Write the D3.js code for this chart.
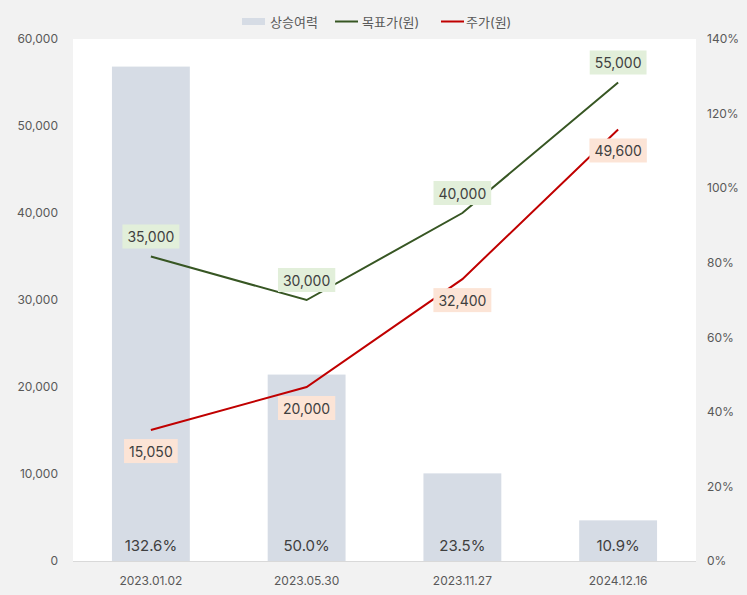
<!DOCTYPE html>
<html><head><meta charset="utf-8">
<script src="https://cdn.jsdelivr.net/npm/d3@7"></script>
<style>
body{margin:0;background:#f2f2f2;}
svg{display:block;font-family:Inter,"Noto Sans CJK KR",sans-serif;}
</style></head><body>
<svg id="c" width="747" height="595"></svg>
<script>
const categories = ["2023.01.02","2023.05.30","2023.11.27","2024.12.16"];
const upside = [132.6, 50.0, 23.5, 10.9];
const target = [35000, 30000, 40000, 55000];
const price = [15050, 20000, 32400, 49600];
const leftTicks = [0,10000,20000,30000,40000,50000,60000];
const rightTicks = [0,20,40,60,80,100,120,140];

const svg = d3.select("#c");
const m = {l:73, r:51, t:39, b:34};
const W = 747, H = 595;
svg.append("rect").attr("width",W).attr("height",H).attr("fill","#f2f2f2");
svg.append("rect").attr("x",m.l).attr("y",m.t).attr("width",W-m.l-m.r).attr("height",H-m.t-m.b).attr("fill","#ffffff");

const x = d3.scaleBand().domain(categories).range([m.l, W-m.r]).paddingInner(0).paddingOuter(0);
const yL = d3.scaleLinear().domain([0,60000]).range([H-m.b, m.t]);
const yR = d3.scaleLinear().domain([0,140]).range([H-m.b, m.t]);
const cx = d => x(d) + x.bandwidth()/2;

// bars
const bw = x.bandwidth()*0.5;
svg.selectAll(".bar").data(categories).join("rect")
  .attr("x", d=>cx(d)-bw/2).attr("width", bw)
  .attr("y", (d,i)=>yR(upside[i])).attr("height",(d,i)=>yR(0)-yR(upside[i]))
  .attr("fill","#d6dce5");
svg.selectAll(".barlab").data(categories).join("text")
  .attr("x", d=>cx(d)).attr("y", H-m.b-10).attr("text-anchor","middle")
  .attr("font-size",15).attr("fill","#404040")
  .text((d,i)=>upside[i].toFixed(1)+"%");

// axis baseline
svg.append("line").attr("x1",m.l).attr("x2",W-m.r).attr("y1",yL(0)+0.5).attr("y2",yL(0)+0.5).attr("stroke","#d9d9d9");

// left axis
const gl = svg.append("g").attr("transform",`translate(${m.l-15},0)`)
  .call(d3.axisLeft(yL).tickValues(leftTicks).tickSize(0).tickPadding(0).tickFormat(d3.format(",")));
gl.select(".domain").remove();
gl.selectAll("text").attr("font-size",12).attr("fill","#595959").attr("font-family",'Inter,"Noto Sans CJK KR",sans-serif');

const gr = svg.append("g").attr("transform",`translate(${W-m.r+11},0)`)
  .call(d3.axisRight(yR).tickValues(rightTicks).tickSize(0).tickPadding(0).tickFormat(d=>d+"%"));
gr.select(".domain").remove();
gr.selectAll("text").attr("font-size",12).attr("fill","#595959").attr("font-family",'Inter,"Noto Sans CJK KR",sans-serif');

const gx = svg.append("g").attr("transform",`translate(0,${H-m.b+15})`)
  .call(d3.axisBottom(x).tickSize(0).tickPadding(0));
gx.select(".domain").remove();
gx.selectAll("text").attr("font-size",12).attr("fill","#595959").attr("font-family",'Inter,"Noto Sans CJK KR",sans-serif');

// lines
const line = d3.line().x((d,i)=>cx(categories[i])).y(d=>yL(d));
svg.append("path").datum(target).attr("d",line).attr("fill","none").attr("stroke","#375623").attr("stroke-width",2);
svg.append("path").datum(price).attr("d",line).attr("fill","none").attr("stroke","#c00000").attr("stroke-width",2);

function labels(data, dy, bg){
  const g = svg.append("g");
  data.forEach((v,i)=>{
    const t = g.append("text").attr("x",cx(categories[i])).attr("y",yL(v)+dy)
      .attr("text-anchor","middle").attr("dominant-baseline","central")
      .attr("font-size",14).attr("fill","#404040").text(d3.format(",")(v));
    const b = t.node().getBBox();
    g.insert("rect","text").attr("x",b.x-5).attr("y",yL(v)+dy-12).attr("width",b.width+10).attr("height",24).attr("fill",bg);
  });
}
labels(target, -20, "#e2efda");
labels(price, 21, "#fce4d6");

// legend
const lg = svg.append("g").attr("font-size",13).attr("fill","#595959");
lg.append("rect").attr("x",242).attr("y",18).attr("width",23).attr("height",7).attr("fill","#d6dce5");
lg.append("text").attr("x",270).attr("y",22).attr("dominant-baseline","central").attr("fill","#595959").text("상승여력");
lg.append("line").attr("x1",335).attr("x2",358).attr("y1",21.5).attr("y2",21.5).attr("stroke","#375623").attr("stroke-width",2);
lg.append("text").attr("x",362).attr("y",22).attr("dominant-baseline","central").attr("fill","#595959").text("목표가(원)");
lg.append("line").attr("x1",441).attr("x2",464).attr("y1",21.5).attr("y2",21.5).attr("stroke","#c00000").attr("stroke-width",2);
lg.append("text").attr("x",466).attr("y",22).attr("dominant-baseline","central").attr("fill","#595959").text("주가(원)");
</script>
</body></html>
